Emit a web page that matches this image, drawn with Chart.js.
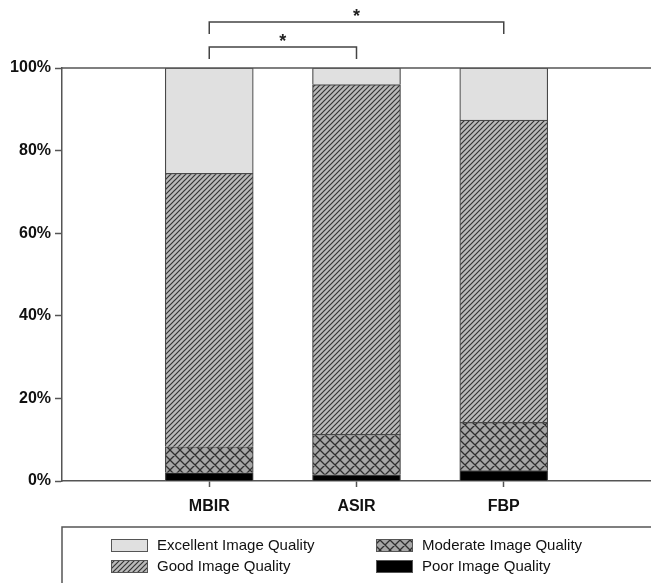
<!DOCTYPE html>
<html>
<head>
<meta charset="utf-8">
<script src="https://cdn.jsdelivr.net/npm/chart.js@4"></script>
<style>
  body { margin: 0; background: #fff; }
  #wrap { width: 651px; height: 583px; }
</style>
</head>
<body>
<div id="wrap"><canvas id="myChart"></canvas></div>
<script>
// data (percent of cases per method)
const categories = ['MBIR', 'ASIR', 'FBP'];
const poor = [2.0, 1.5, 2.5];
const moderate = [6.3, 9.8, 11.7];
const good = [66.2, 84.7, 73.2];
const excellent = [25.5, 4.0, 12.6];
const yTicks = [0, 20, 40, 60, 80, 100];
// significance brackets: [from, to] category index, lower one first
const brackets = [[0, 1, '*'], [0, 2, '*']];

function hatchPattern(bg, fg, size, cross) {
    let c = document.createElement('canvas');
    c.width = size;
    c.height = size;
    let g = c.getContext('2d');
    g.fillStyle = bg;
    g.fillRect(0, 0, size, size);
    g.strokeStyle = fg;
    g.lineWidth = cross ? 1.3 : 1.2;
    g.beginPath();
    // "/" direction
    g.moveTo(-1, size + 1); g.lineTo(size + 1, -1);
    g.moveTo(-1, 1); g.lineTo(1, -1);
    g.moveTo(size - 1, size + 1); g.lineTo(size + 1, size - 1);
    if (cross) {
        g.moveTo(-1, -1); g.lineTo(size + 1, size + 1);
        g.moveTo(size - 1, -1); g.lineTo(size + 1, 1);
        g.moveTo(-1, size - 1); g.lineTo(1, size + 1);
    }
    g.stroke();
    return g.createPattern(c, 'repeat');
}

const ctx = document.getElementById('myChart').getContext('2d');
const goodFill = hatchPattern('#bababa', '#333333', 5, false);
const moderateFill = hatchPattern('#a6a6a6', '#2e2e2e', 10, true);

const pad = arr => [null, ...arr, null];
const labels = ['', ...categories, ''];

const legendPlugin = {
    id: 'boxLegend',
    afterDraw(chart) {
        let c = chart.ctx;
        let area = chart.chartArea;
        let top = area.bottom + 46;
        c.save();
        c.strokeStyle = '#555';
        c.lineWidth = 1.5;
        c.beginPath();
        c.moveTo(area.left, chart.height + 2);
        c.lineTo(area.left, top);
        c.lineTo(chart.width + 2, top);
        c.stroke();

        // two columns: Excellent / Good, Moderate / Poor
        let order = [3, 2, 1, 0];
        let cols = [area.left + 49, area.left + 314];
        c.font = '15px "Liberation Sans", Arial, sans-serif';
        c.textBaseline = 'middle';
        for (let i = 0; i < order.length; i++) {
            let ds = chart.data.datasets[order[i]];
            let x = cols[Math.floor(i / 2)];
            let y = top + 12 + (i % 2) * 21;
            c.fillStyle = ds.backgroundColor;
            c.fillRect(x, y, 37, 13);
            c.strokeStyle = '#555';
            c.lineWidth = 1;
            c.strokeRect(x + 0.5, y + 0.5, 36, 12);
            c.fillStyle = '#111';
            c.fillText(ds.label, x + 46, y + 7);
        }
        c.restore();
    }
};

const bracketPlugin = {
    id: 'brackets',
    afterDraw(chart) {
        let c = chart.ctx;
        let area = chart.chartArea;
        let xs = chart.scales.x;
        c.save();
        // top frame line of the plot
        c.strokeStyle = '#555';
        c.lineWidth = 1.5;
        c.beginPath();
        c.moveTo(area.left, area.top);
        c.lineTo(area.right, area.top);
        c.stroke();

        c.strokeStyle = '#444';
        c.fillStyle = '#222';
        c.font = 'bold 18px "Liberation Sans", Arial, sans-serif';
        c.textAlign = 'center';
        c.textBaseline = 'middle';
        for (let i = 0; i < brackets.length; i++) {
            let x1 = xs.getPixelForValue(brackets[i][0] + 1);
            let x2 = xs.getPixelForValue(brackets[i][1] + 1);
            let yEnd = area.top - 9 - i * 25;
            let yLine = yEnd - 12;
            c.beginPath();
            c.moveTo(x1, yEnd);
            c.lineTo(x1, yLine);
            c.lineTo(x2, yLine);
            c.lineTo(x2, yEnd);
            c.stroke();
            c.fillText(brackets[i][2], (x1 + x2) / 2, yLine - 5);
        }
        c.restore();
    }
};

const border = { color: '#484848', width: 1.2 };

new Chart(ctx, {
    type: 'bar',
    data: {
        labels: labels,
        datasets: [
            { label: 'Poor Image Quality', data: pad(poor), backgroundColor: '#000000' },
            { label: 'Moderate Image Quality', data: pad(moderate), backgroundColor: moderateFill },
            { label: 'Good Image Quality', data: pad(good), backgroundColor: goodFill },
            { label: 'Excellent Image Quality', data: pad(excellent), backgroundColor: '#e0e0e0' }
        ].map(d => Object.assign(d, { borderColor: border.color, borderWidth: border.width, barThickness: 88 }))
    },
    options: {
        responsive: true,
        maintainAspectRatio: false,
        animation: false,
        layout: { padding: { top: 68, right: 0, left: 0, bottom: 0 } },
        plugins: {
            legend: { display: false },
            tooltip: { enabled: false }
        },
        scales: {
            x: {
                stacked: true,
                offset: false,
                grid: {
                    offset: false,
                    drawOnChartArea: false,
                    tickLength: 6,
                    tickColor: c => (c.index === 0 || c.index === labels.length - 1) ? 'rgba(0,0,0,0)' : '#555',
                    tickWidth: 1.5
                },
                border: { color: '#555', width: 1.5 },
                ticks: {
                    padding: 10,
                    color: '#111',
                    font: { family: '"Liberation Sans", Arial, sans-serif', size: 16, weight: 'bold' },
                    autoSkip: false,
                    maxRotation: 0
                },
                afterFit: s => { s.height = 102; s.paddingRight = 0; s.paddingLeft = 0; }
            },
            y: {
                stacked: true,
                min: 0,
                max: 100,
                afterBuildTicks: s => { s.ticks = yTicks.map(v => ({ value: v })); },
                grid: { drawOnChartArea: false, tickLength: 7, tickColor: '#555', tickWidth: 1.5 },
                border: { color: '#555', width: 1.5 },
                ticks: {
                    padding: 4,
                    color: '#111',
                    font: { family: '"Liberation Sans", Arial, sans-serif', size: 16, weight: 'bold' },
                    callback: v => v + '%'
                },
                afterFit: s => { s.width = 62; }
            }
        }
    },
    plugins: [legendPlugin, bracketPlugin]
});
</script>
</body>
</html>
